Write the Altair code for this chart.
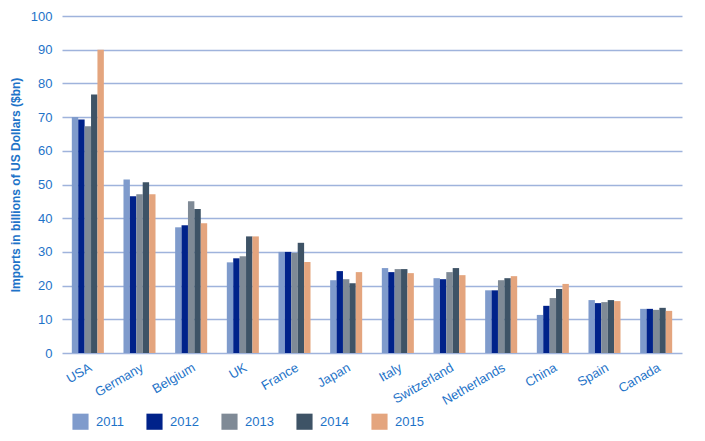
import altair as alt
import pandas as pd

countries = ["USA", "Germany", "Belgium", "UK", "France", "Japan", "Italy",
             "Switzerland", "Netherlands", "China", "Spain", "Canada"]
years = ["2011", "2012", "2013", "2014", "2015"]
v2011 = [70.0, 51.5, 37.3, 26.9, 30.0, 21.6, 25.2, 22.2, 18.6, 11.3, 15.7, 13.1]
v2012 = [69.3, 46.5, 37.9, 28.1, 30.0, 24.3, 24.0, 21.9, 18.6, 14.0, 14.8, 13.1]
v2013 = [67.3, 47.1, 45.0, 28.7, 29.7, 21.9, 24.9, 24.0, 21.6, 16.3, 15.1, 12.8]
v2014 = [76.7, 50.7, 42.7, 34.6, 32.7, 20.7, 24.9, 25.2, 22.2, 19.0, 15.7, 13.4]
v2015 = [90.0, 47.1, 38.5, 34.6, 27.0, 24.0, 23.7, 23.1, 22.8, 20.5, 15.4, 12.5]
y_ticks = [0, 10, 20, 30, 40, 50, 60, 70, 80, 90, 100]
colors = ["#7F9BCC", "#00228A", "#7F8A96", "#3E5366", "#E4A57E"]

series = [v2011, v2012, v2013, v2014, v2015]
rows = []
for y, vals in zip(years, series):
    for c, v in zip(countries, vals):
        rows.append({"country": c, "year": y, "value": v})
df = pd.DataFrame(rows)

TXT = "#1E73C8"
FONT = "Liberation Sans"

chart = alt.Chart(df).mark_bar().encode(
    x=alt.X("country:N", sort=countries, title=None,
            scale=alt.Scale(paddingInner=0.38, paddingOuter=0.19),
            axis=alt.Axis(labelAngle=-30, labelAlign="right", labelBaseline="top",
                          labelPadding=8, ticks=False, domain=False, grid=False,
                          labelOverlap=False,
                          labelColor=TXT, labelFontSize=13, labelFont=FONT)),
    xOffset=alt.XOffset("year:N", sort=years),
    y=alt.Y("value:Q", title="Imports in billions of US Dollars ($bn)",
            scale=alt.Scale(domain=[0, 100], nice=False),
            axis=alt.Axis(values=y_ticks, labelOverlap=False,
                          ticks=False, domain=False, grid=True,
                          gridColor="#9fb3dc", gridWidth=1.5,
                          labelColor=TXT, labelFontSize=13, labelFont=FONT,
                          labelPadding=10, titleColor=TXT, titleFontSize=12,
                          titleFont=FONT, titleFontWeight="bold", titlePadding=8)),
    color=alt.Color("year:N", sort=years, title=None,
                    scale=alt.Scale(domain=years, range=colors),
                    legend=alt.Legend(orient="none", legendX=10, legendY=397,
                                      direction="horizontal", symbolType="square",
                                      symbolSize=260, symbolStrokeWidth=0,
                                      labelFontSize=13, labelColor=TXT, labelFont=FONT,
                                      labelOffset=7, columnPadding=22)),
).properties(
    width=620, height=337,
    autosize=alt.AutoSizeParams(type="none"),
    padding={"left": 54, "top": 8, "right": 15, "bottom": 80},
).configure_view(stroke=None)

chart.save("out.html", embed_options={"renderer": "svg", "actions": False})
